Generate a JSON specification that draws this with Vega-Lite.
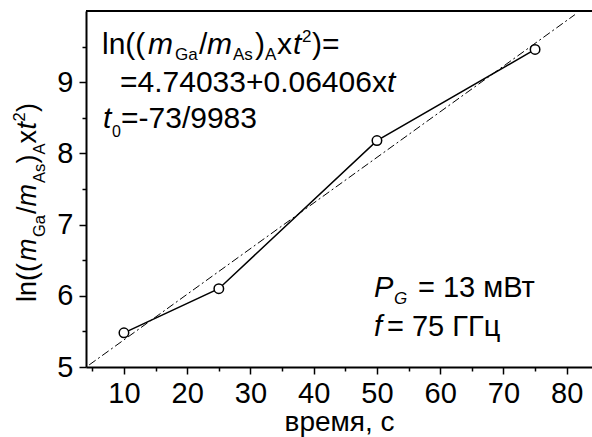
{
  "$schema": "https://vega.github.io/schema/vega-lite/v6.json",
  "width": 506,
  "height": 356,
  "autosize": {"type": "none"},
  "padding": {"left": 86, "top": 11, "right": 0, "bottom": 70},
  "background": "white",
  "config": {
    "view": {"stroke": null},
    "text": {"font": "Liberation Sans", "color": "black", "align": "left", "baseline": "alphabetic"},
    "axis": {"labelFont": "Liberation Sans", "titleFont": "Liberation Sans", "labelColor": "black", "titleColor": "black", "domainColor": "black", "tickColor": "black", "grid": false, "domainWidth": 2, "tickWidth": 1.5, "titleFontWeight": "normal", "labelOverlap": false}
  },
  "resolve": {"axis": {"x": "independent", "y": "independent"}},
  "datasets": {
    "measured": [
      {"t": 10, "y": 5.48},
      {"t": 25, "y": 6.1},
      {"t": 50, "y": 8.18},
      {"t": 75, "y": 9.46}
    ],
    "fit": [
      {"t": 4.5, "y": 5.029},
      {"t": 81.3, "y": 9.949}
    ]
  },
  "layer": [
    {
      "data": {"name": "fit"},
      "mark": {"type": "line", "color": "black", "strokeWidth": 1, "strokeDash": [8, 3, 2, 3]},
      "encoding": {
        "x": {"field": "t", "type": "quantitative", "scale": {"domain": [4, 84], "nice": false, "zero": false},
          "axis": {"orient": "bottom", "values": [10, 20, 30, 40, 50, 60, 70, 80], "format": "d", "tickSize": 7,
            "labelFontSize": 29, "labelPadding": 5, "labelFlush": false,
            "title": "время, с", "titleFontSize": 28, "titlePadding": 0}},
        "y": {"field": "y", "type": "quantitative", "scale": {"domain": [5, 10], "nice": false, "zero": false},
          "axis": {"orient": "left", "values": [5, 6, 7, 8, 9], "format": "d", "tickSize": 7,
            "labelFontSize": 29, "labelPadding": 6, "labelFlush": false, "title": null}}
      }
    },
    {
      "data": {"name": "measured"},
      "mark": {"type": "line", "color": "black", "strokeWidth": 1.5},
      "encoding": {
        "x": {"field": "t", "type": "quantitative",
          "axis": {"orient": "bottom", "values": [5, 15, 25, 35, 45, 55, 65, 75], "labels": false, "domain": false, "tickSize": 4, "title": null}},
        "y": {"field": "y", "type": "quantitative",
          "axis": {"orient": "left", "values": [5.5, 6.5, 7.5, 8.5, 9.5], "labels": false, "domain": false, "tickSize": 4, "title": null}}
      }
    },
    {
      "data": {"values": [{"edge": 10}]},
      "mark": {"type": "rule", "color": "black", "strokeWidth": 2},
      "encoding": {"y": {"field": "edge", "type": "quantitative", "axis": null}}
    },
    {
      "data": {"name": "measured"},
      "mark": {"type": "point", "shape": "circle", "filled": true, "fill": "white", "stroke": "black", "strokeWidth": 1.5, "size": 90, "opacity": 1},
      "encoding": {"x": {"field": "t", "type": "quantitative", "axis": null}, "y": {"field": "y", "type": "quantitative", "axis": null}}
    },

    {"data": {"values": [{"s": "ln(("}]}, "mark": {"type": "text", "fontSize": 30, "dx": 0}, "encoding": {"text": {"field": "s"}, "x": {"datum": 6.53, "type": "quantitative", "axis": null}, "y": {"datum": 9.396, "type": "quantitative", "axis": null}}},
    {"data": {"values": [{"s": "m"}]}, "mark": {"type": "text", "fontSize": 30, "fontStyle": "italic", "dx": 46}, "encoding": {"text": {"field": "s"}, "x": {"datum": 6.53, "type": "quantitative", "axis": null}, "y": {"datum": 9.396, "type": "quantitative", "axis": null}}},
    {"data": {"values": [{"s": "Ga"}]}, "mark": {"type": "text", "fontSize": 17, "dx": 73, "dy": 6}, "encoding": {"text": {"field": "s"}, "x": {"datum": 6.53, "type": "quantitative", "axis": null}, "y": {"datum": 9.396, "type": "quantitative", "axis": null}}},
    {"data": {"values": [{"s": "/"}]}, "mark": {"type": "text", "fontSize": 30, "dx": 97}, "encoding": {"text": {"field": "s"}, "x": {"datum": 6.53, "type": "quantitative", "axis": null}, "y": {"datum": 9.396, "type": "quantitative", "axis": null}}},
    {"data": {"values": [{"s": "m"}]}, "mark": {"type": "text", "fontSize": 30, "fontStyle": "italic", "dx": 105}, "encoding": {"text": {"field": "s"}, "x": {"datum": 6.53, "type": "quantitative", "axis": null}, "y": {"datum": 9.396, "type": "quantitative", "axis": null}}},
    {"data": {"values": [{"s": "As"}]}, "mark": {"type": "text", "fontSize": 17, "dx": 131, "dy": 6}, "encoding": {"text": {"field": "s"}, "x": {"datum": 6.53, "type": "quantitative", "axis": null}, "y": {"datum": 9.396, "type": "quantitative", "axis": null}}},
    {"data": {"values": [{"s": ")"}]}, "mark": {"type": "text", "fontSize": 30, "dx": 153}, "encoding": {"text": {"field": "s"}, "x": {"datum": 6.53, "type": "quantitative", "axis": null}, "y": {"datum": 9.396, "type": "quantitative", "axis": null}}},
    {"data": {"values": [{"s": "A"}]}, "mark": {"type": "text", "fontSize": 17, "dx": 163, "dy": 6}, "encoding": {"text": {"field": "s"}, "x": {"datum": 6.53, "type": "quantitative", "axis": null}, "y": {"datum": 9.396, "type": "quantitative", "axis": null}}},
    {"data": {"values": [{"s": "x"}]}, "mark": {"type": "text", "fontSize": 30, "dx": 175}, "encoding": {"text": {"field": "s"}, "x": {"datum": 6.53, "type": "quantitative", "axis": null}, "y": {"datum": 9.396, "type": "quantitative", "axis": null}}},
    {"data": {"values": [{"s": "t"}]}, "mark": {"type": "text", "fontSize": 30, "fontStyle": "italic", "dx": 191}, "encoding": {"text": {"field": "s"}, "x": {"datum": 6.53, "type": "quantitative", "axis": null}, "y": {"datum": 9.396, "type": "quantitative", "axis": null}}},
    {"data": {"values": [{"s": "2"}]}, "mark": {"type": "text", "fontSize": 17, "dx": 200, "dy": -12}, "encoding": {"text": {"field": "s"}, "x": {"datum": 6.53, "type": "quantitative", "axis": null}, "y": {"datum": 9.396, "type": "quantitative", "axis": null}}},
    {"data": {"values": [{"s": ")="}]}, "mark": {"type": "text", "fontSize": 30, "dx": 210}, "encoding": {"text": {"field": "s"}, "x": {"datum": 6.53, "type": "quantitative", "axis": null}, "y": {"datum": 9.396, "type": "quantitative", "axis": null}}},

    {"data": {"values": [{"s": "=4.74033+0.06406x"}]}, "mark": {"type": "text", "fontSize": 30, "dx": 18}, "encoding": {"text": {"field": "s"}, "x": {"datum": 6.53, "type": "quantitative", "axis": null}, "y": {"datum": 8.862, "type": "quantitative", "axis": null}}},
    {"data": {"values": [{"s": "t"}]}, "mark": {"type": "text", "fontSize": 30, "fontStyle": "italic", "dx": 285}, "encoding": {"text": {"field": "s"}, "x": {"datum": 6.53, "type": "quantitative", "axis": null}, "y": {"datum": 8.862, "type": "quantitative", "axis": null}}},

    {"data": {"values": [{"s": "t"}]}, "mark": {"type": "text", "fontSize": 30, "fontStyle": "italic", "dx": 1}, "encoding": {"text": {"field": "s"}, "x": {"datum": 6.53, "type": "quantitative", "axis": null}, "y": {"datum": 8.357, "type": "quantitative", "axis": null}}},
    {"data": {"values": [{"s": "0"}]}, "mark": {"type": "text", "fontSize": 16, "dx": 10, "dy": 9}, "encoding": {"text": {"field": "s"}, "x": {"datum": 6.53, "type": "quantitative", "axis": null}, "y": {"datum": 8.357, "type": "quantitative", "axis": null}}},
    {"data": {"values": [{"s": "=-73/9983"}]}, "mark": {"type": "text", "fontSize": 30, "dx": 19}, "encoding": {"text": {"field": "s"}, "x": {"datum": 6.53, "type": "quantitative", "axis": null}, "y": {"datum": 8.357, "type": "quantitative", "axis": null}}},

    {"data": {"values": [{"s": "P"}]}, "mark": {"type": "text", "fontSize": 29, "fontStyle": "italic", "dx": 0}, "encoding": {"text": {"field": "s"}, "x": {"datum": 49.53, "type": "quantitative", "axis": null}, "y": {"datum": 5.983, "type": "quantitative", "axis": null}}},
    {"data": {"values": [{"s": "G"}]}, "mark": {"type": "text", "fontSize": 17, "fontStyle": "italic", "dx": 20, "dy": 7}, "encoding": {"text": {"field": "s"}, "x": {"datum": 49.53, "type": "quantitative", "axis": null}, "y": {"datum": 5.983, "type": "quantitative", "axis": null}}},
    {"data": {"values": [{"s": "= 13 мВт"}]}, "mark": {"type": "text", "fontSize": 29, "dx": 44}, "encoding": {"text": {"field": "s"}, "x": {"datum": 49.53, "type": "quantitative", "axis": null}, "y": {"datum": 5.983, "type": "quantitative", "axis": null}}},
    {"data": {"values": [{"s": "f"}]}, "mark": {"type": "text", "fontSize": 29, "fontStyle": "italic", "dx": 0}, "encoding": {"text": {"field": "s"}, "x": {"datum": 49.53, "type": "quantitative", "axis": null}, "y": {"datum": 5.435, "type": "quantitative", "axis": null}}},
    {"data": {"values": [{"s": "= 75 ГГц"}]}, "mark": {"type": "text", "fontSize": 29, "dx": 13}, "encoding": {"text": {"field": "s"}, "x": {"datum": 49.53, "type": "quantitative", "axis": null}, "y": {"datum": 5.435, "type": "quantitative", "axis": null}}},

    {"data": {"values": [{"s": "ln(("}]}, "mark": {"type": "text", "fontSize": 27, "angle": 270, "dx": 0}, "encoding": {"text": {"field": "s"}, "x": {"datum": -3.98, "type": "quantitative", "axis": null}, "y": {"datum": 5.913, "type": "quantitative", "axis": null}}},
    {"data": {"values": [{"s": "m"}]}, "mark": {"type": "text", "fontSize": 27, "angle": 270, "fontStyle": "italic", "dx": 41}, "encoding": {"text": {"field": "s"}, "x": {"datum": -3.98, "type": "quantitative", "axis": null}, "y": {"datum": 5.913, "type": "quantitative", "axis": null}}},
    {"data": {"values": [{"s": "Ga"}]}, "mark": {"type": "text", "fontSize": 16.5, "angle": 270, "dx": 65, "dy": 9}, "encoding": {"text": {"field": "s"}, "x": {"datum": -3.98, "type": "quantitative", "axis": null}, "y": {"datum": 5.913, "type": "quantitative", "axis": null}}},
    {"data": {"values": [{"s": "/"}]}, "mark": {"type": "text", "fontSize": 27, "angle": 270, "dx": 88}, "encoding": {"text": {"field": "s"}, "x": {"datum": -3.98, "type": "quantitative", "axis": null}, "y": {"datum": 5.913, "type": "quantitative", "axis": null}}},
    {"data": {"values": [{"s": "m"}]}, "mark": {"type": "text", "fontSize": 27, "angle": 270, "fontStyle": "italic", "dx": 95.5}, "encoding": {"text": {"field": "s"}, "x": {"datum": -3.98, "type": "quantitative", "axis": null}, "y": {"datum": 5.913, "type": "quantitative", "axis": null}}},
    {"data": {"values": [{"s": "As"}]}, "mark": {"type": "text", "fontSize": 16.5, "angle": 270, "dx": 119, "dy": 9}, "encoding": {"text": {"field": "s"}, "x": {"datum": -3.98, "type": "quantitative", "axis": null}, "y": {"datum": 5.913, "type": "quantitative", "axis": null}}},
    {"data": {"values": [{"s": ")"}]}, "mark": {"type": "text", "fontSize": 27, "angle": 270, "dx": 138.5}, "encoding": {"text": {"field": "s"}, "x": {"datum": -3.98, "type": "quantitative", "axis": null}, "y": {"datum": 5.913, "type": "quantitative", "axis": null}}},
    {"data": {"values": [{"s": "A"}]}, "mark": {"type": "text", "fontSize": 16.5, "angle": 270, "dx": 147.5, "dy": 9}, "encoding": {"text": {"field": "s"}, "x": {"datum": -3.98, "type": "quantitative", "axis": null}, "y": {"datum": 5.913, "type": "quantitative", "axis": null}}},
    {"data": {"values": [{"s": "x"}]}, "mark": {"type": "text", "fontSize": 27, "angle": 270, "dx": 158.5}, "encoding": {"text": {"field": "s"}, "x": {"datum": -3.98, "type": "quantitative", "axis": null}, "y": {"datum": 5.913, "type": "quantitative", "axis": null}}},
    {"data": {"values": [{"s": "t"}]}, "mark": {"type": "text", "fontSize": 27, "angle": 270, "fontStyle": "italic", "dx": 172.5}, "encoding": {"text": {"field": "s"}, "x": {"datum": -3.98, "type": "quantitative", "axis": null}, "y": {"datum": 5.913, "type": "quantitative", "axis": null}}},
    {"data": {"values": [{"s": "2"}]}, "mark": {"type": "text", "fontSize": 16.5, "angle": 270, "dx": 180.5, "dy": -11}, "encoding": {"text": {"field": "s"}, "x": {"datum": -3.98, "type": "quantitative", "axis": null}, "y": {"datum": 5.913, "type": "quantitative", "axis": null}}},
    {"data": {"values": [{"s": ")"}]}, "mark": {"type": "text", "fontSize": 27, "angle": 270, "dx": 190}, "encoding": {"text": {"field": "s"}, "x": {"datum": -3.98, "type": "quantitative", "axis": null}, "y": {"datum": 5.913, "type": "quantitative", "axis": null}}}
  ]
}
